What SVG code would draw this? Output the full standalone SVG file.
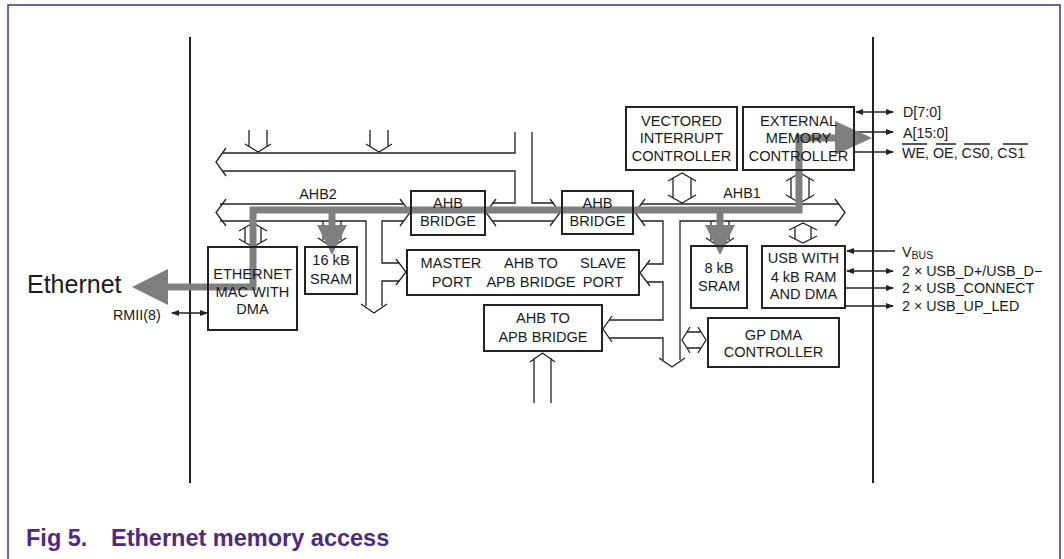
<svg xmlns="http://www.w3.org/2000/svg" width="1064" height="559" viewBox="0 0 1064 559">
<style>
text{font-family:"Liberation Sans",Arial,sans-serif;fill:#1a1a1a}
.bt{font-size:14.6px;text-anchor:middle}
.lb{font-size:14.3px}
.box{fill:none;stroke:#222;stroke-width:2}
.ln{fill:none;stroke:#222;stroke-width:1.3}
.thick{fill:none;stroke:#222;stroke-width:2}
.gray{fill:none;stroke:#7f7f7f;stroke-width:7}
.grayf{fill:#7f7f7f;stroke:none}
.cap{font-size:23.5px;font-weight:bold;fill:#4f2a80}
</style>
<defs>
<marker id="ah" markerWidth="8" markerHeight="6" refX="7" refY="3" orient="auto-start-reverse" markerUnits="userSpaceOnUse">
<path d="M0,0 L8,3 L0,6 z" fill="#222"/>
</marker>
</defs>
<path d="M8,560 L8,5 L1060,5 L1060,560" fill="none" stroke="#4f2a80" stroke-width="1.5"/>
<g id="chip-edges">
<line class="thick" x1="190" y1="37" x2="190" y2="483"/>
<line class="thick" x1="873" y1="37" x2="873" y2="483"/>
</g>
<g id="connectors">
<!-- upper bus -->
<path class="ln" d="M223,153 L515,153 L515,132"/>
<path class="ln" d="M223,171 L515,171 L515,203 L492,203"/>
<path class="ln" d="M226,148 L216,162 L226,176"/>
<path class="ln" d="M532,132 L532,203 L554,203"/>
<path class="ln" d="M492,221 L554,221"/>
<path class="ln" d="M496,199 L486,212.5 L496,226"/>
<path class="ln" d="M550,199 L560,212.5 L550,226"/>
<!-- top down arrows -->
<path class="ln" d="M249,130 L249,146 M267,130 L267,146 M245,144 L258,152 L271,144"/>
<path class="ln" d="M370,130 L370,146 M388,130 L388,146 M366,144 L379,152 L392,144"/>
<!-- AHB2 -->
<path class="ln" d="M220,204 L404,204"/>
<path class="ln" d="M220,221 L366,221 L366,306 M382,306 L382,281 L399,281 M399,263 L382,263 L382,221 L404,221"/>
<path class="ln" d="M226,199 L216,212.5 L226,226"/>
<path class="ln" d="M400,199 L410,212.5 L400,226"/>
<path class="ln" d="M361,304 L374,313 L387,304"/>
<path class="ln" d="M396,259 L406,272 L396,285"/>
<!-- AHB1 -->
<path class="ln" d="M641,204 L839,204"/>
<path class="ln" d="M641,221 L663,221 L663,264 L647,264 M647,282 L663,282 L663,320 L609,320 M609,338 L663,338 L663,360 M680,360 L680,221 L839,221"/>
<path class="ln" d="M645,199 L635,212.5 L645,226"/>
<path class="ln" d="M835,199 L845,212.5 L835,226"/>
<path class="ln" d="M650,260 L640,273 L650,286"/>
<path class="ln" d="M612,316 L603,329 L612,342"/>
<path class="ln" d="M659,358 L672,367 L685,358"/>
<!-- up arrow to APB bridge -->
<path class="ln" d="M534,403 L534,358 M551,403 L551,358 M530,362 L542.5,353 L555,362"/>
<!-- SRAM black down arrows -->
<path class="ln" d="M323,221 L323,240 M341,221 L341,240 M318,238 L332,247 L346,238"/>
<path class="ln" d="M711,221 L711,240 M729,221 L729,240 M706,238 L720,247 L734,238"/>
<!-- vertical double arrows -->
<path class="ln" d="M239,231 L253,223 L267,231 M239,239 L253,247 L267,239 M245,227 L245,243 M261,227 L261,243"/>
<path class="ln" d="M668,181 L682,173 L696,181 M668,195 L682,203 L696,195 M673,178 L673,198 M691,178 L691,198"/>
<path class="ln" d="M786,181 L800,173 L814,181 M786,195 L800,203 L814,195 M791,178 L791,198 M809,178 L809,198"/>
<path class="ln" d="M789,230 L803,223 L817,230 M789,236 L803,243 L817,236 M795,226.5 L795,239.5 M811,226.5 L811,239.5"/>
<!-- horizontal double arrow GP DMA -->
<path class="ln" d="M690,327 L682,340 L690,353 M698,327 L706,340 L698,353 M687,332 L701,332 M687,348 L701,348"/>
<!-- external signals -->
<line class="ln" x1="856" y1="112" x2="893" y2="112" marker-start="url(#ah)" marker-end="url(#ah)"/>
<line class="ln" x1="855" y1="132" x2="893" y2="132" marker-end="url(#ah)"/>
<line class="ln" x1="855" y1="152" x2="893" y2="152" marker-end="url(#ah)"/>
<line class="ln" x1="895" y1="251" x2="847" y2="251" marker-end="url(#ah)"/>
<line class="ln" x1="847" y1="271" x2="893" y2="271" marker-start="url(#ah)" marker-end="url(#ah)"/>
<line class="ln" x1="845" y1="288" x2="893" y2="288" marker-end="url(#ah)"/>
<line class="ln" x1="845" y1="306" x2="893" y2="306" marker-end="url(#ah)"/>
<line class="ln" x1="172" y1="313" x2="207" y2="313" marker-start="url(#ah)" marker-end="url(#ah)"/>
</g>
<g id="data-path">
<path class="gray" d="M160,287 L253,287 L253,210 L799,210 L799,138 L838,138"/>
<path class="gray" d="M332,210 L332,228"/>
<path class="gray" d="M720,210 L720,228"/>
<path class="grayf" d="M168,269 L132,287 L168,305 z"/>
<path class="grayf" d="M835,121 L872,138 L835,155 z"/>
<path class="grayf" d="M317,225 L332,255 L347,225 z"/>
<path class="grayf" d="M705,225 L720,255 L735,225 z"/>
</g>
<g id="eth-mac"><rect class="box" x="208" y="247" width="89" height="83"/>
<text class="bt" x="252.5" y="279">ETHERNET</text><text class="bt" x="252.5" y="297">MAC WITH</text><text class="bt" x="252.5" y="314">DMA</text></g>
<g id="sram16"><rect class="box" x="305" y="247" width="52" height="47"/>
<text class="bt" x="331" y="265">16 kB</text><text class="bt" x="331" y="284">SRAM</text></g>
<g id="ahb-bridge-left"><rect class="box" x="411" y="191" width="74" height="44"/>
<text class="bt" x="448" y="208">AHB</text><text class="bt" x="448" y="226">BRIDGE</text></g>
<g id="ahb-bridge-right"><rect class="box" x="562" y="191" width="71" height="43"/>
<text class="bt" x="597.5" y="208">AHB</text><text class="bt" x="597.5" y="226">BRIDGE</text></g>
<g id="ahb-apb-ports"><rect class="box" x="407" y="250" width="232" height="45"/>
<text class="bt" x="451" y="268">MASTER</text><text class="bt" x="452" y="287">PORT</text>
<text class="bt" x="531" y="268">AHB TO</text><text class="bt" x="531" y="287">APB BRIDGE</text>
<text class="bt" x="603" y="268">SLAVE</text><text class="bt" x="603" y="287">PORT</text></g>
<g id="ahb-apb-bridge"><rect class="box" x="484" y="305" width="118" height="46"/>
<text class="bt" x="543" y="323">AHB TO</text><text class="bt" x="543" y="342">APB BRIDGE</text></g>
<g id="vic"><rect class="box" x="626" y="107" width="111" height="63"/>
<text class="bt" x="681.5" y="126">VECTORED</text><text class="bt" x="681.5" y="143">INTERRUPT</text><text class="bt" x="681.5" y="161">CONTROLLER</text></g>
<g id="emc"><rect class="box" x="743" y="107" width="111" height="63"/>
<text class="bt" x="798.5" y="126">EXTERNAL</text><text class="bt" x="798.5" y="143">MEMORY</text><text class="bt" x="798.5" y="161">CONTROLLER</text></g>
<g id="sram8"><rect class="box" x="691" y="246" width="56" height="62"/>
<text class="bt" x="719" y="273">8 kB</text><text class="bt" x="719" y="291">SRAM</text></g>
<g id="usb"><rect class="box" x="762" y="246" width="83" height="62"/>
<text class="bt" x="803.5" y="263">USB WITH</text><text class="bt" x="803.5" y="282">4 kB RAM</text><text class="bt" x="803.5" y="299">AND DMA</text></g>
<g id="gpdma"><rect class="box" x="708" y="318" width="131" height="49"/>
<text class="bt" x="773.5" y="340">GP DMA</text><text class="bt" x="773.5" y="357">CONTROLLER</text></g>
<g id="labels">
<text class="lb" x="318" y="199" text-anchor="middle">AHB2</text>
<text class="lb" x="742" y="198" text-anchor="middle">AHB1</text>
<text class="lb" x="903" y="117">D[7:0]</text>
<text class="lb" x="903" y="138">A[15:0]</text>
<text class="lb" x="902" y="158">WE, OE, CS0, CS1</text>
<path class="ln" d="M902,144 L927,144 M936,144 L956,144 M964,144 L990,144 M1003,144 L1028,144" stroke-width="1"/>
<text class="lb" x="902" y="257">V<tspan font-size="10.5px" dy="2">BUS</tspan></text>
<text class="lb" x="902" y="276">2 × USB_D+/USB_D−</text>
<text class="lb" x="902" y="293">2 × USB_CONNECT</text>
<text class="lb" x="902" y="311">2 × USB_UP_LED</text>
<text class="lb" x="113" y="320">RMII(8)</text>
<text x="27" y="293" font-size="25px">Ethernet</text>
</g>
<g id="caption">
<text class="cap" x="26" y="546">Fig 5.</text>
<text class="cap" x="111" y="546">Ethernet memory access</text>
</g>
</svg>
